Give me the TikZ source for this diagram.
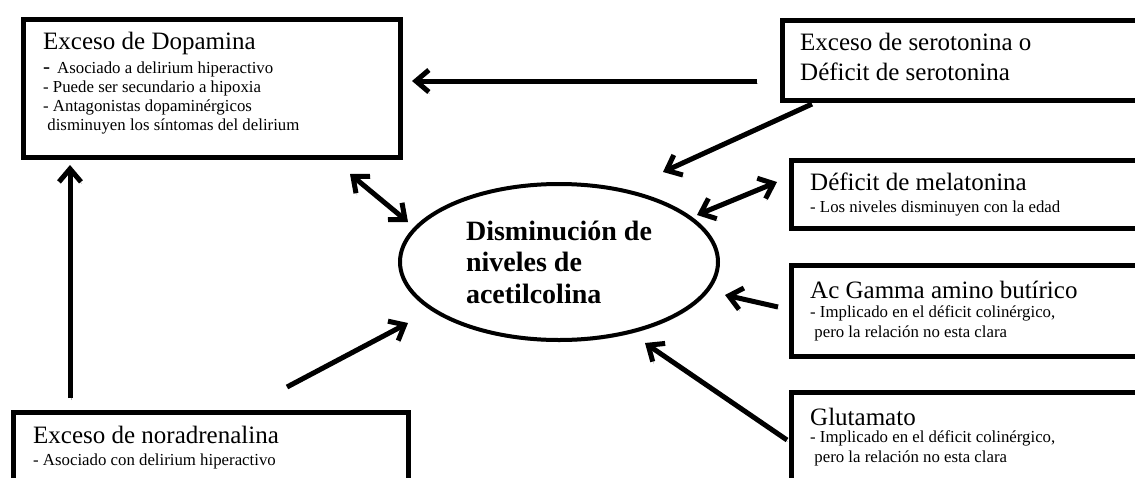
\documentclass[tikz,border=0pt]{standalone}
\usepackage{fontspec}
\setmainfont{Liberation Serif}
\usetikzlibrary{arrows.meta,shadows,shapes.geometric}

\begin{document}
\begin{tikzpicture}[
  x=1pt, y=-1pt,
  box/.style={draw, line width=5pt, fill=white, inner sep=0pt, anchor=north west,
    drop shadow={shadow xshift=1pt, shadow yshift=-3pt, fill=black!30, opacity=1}},
  hub/.style={ellipse, draw, line width=4pt, fill=white, inner sep=0pt,
    minimum width=318pt, minimum height=156pt, align=left,
    font=\fontsize{28}{31.5}\selectfont\bfseries,
    drop shadow={shadow xshift=1pt, shadow yshift=-2pt, fill=black!30, opacity=1}},
  title/.style={anchor=base west, inner sep=0pt, align=left, font=\fontsize{25}{30}\selectfont},
  note/.style={anchor=base west, inner sep=0pt, align=left, font=\fontsize{16.8}{19.5}\selectfont},
  arr/.style={line width=5pt, -{Straight Barb[length=13pt, width=22pt]},
    preaction={draw=black!30, transform canvas={xshift=1pt, yshift=-2pt}}},
  both/.style={arr, {Straight Barb[length=13pt, width=22pt]}-{Straight Barb[length=13pt, width=22pt]}}
]
\useasboundingbox (0,0) rectangle (1135,477);
\clip (0,0) rectangle (1135,477);

\node[box, minimum width=377pt, minimum height=138pt] (dopa) at (20.5,16.5) {};
\node[box, minimum width=380pt, minimum height=80pt] (sero) at (779.5,17.5) {};
\node[box, minimum width=370pt, minimum height=68pt] (mela) at (788.5,157.5) {};
\node[box, minimum width=370pt, minimum height=91pt] (gaba) at (788.5,262.5) {};
\node[box, minimum width=370pt, minimum height=120pt] (glu) at (788.5,389.5) {};
\node[box, minimum width=395pt, minimum height=100pt] (nora) at (10.5,409.5) {};

\node[hub] (ach) at (559,262) {Disminución de\\niveles de\\acetilcolina};

% multi-line texts sit on the baseline of their last line
\node[title] (dopat) at (43,49) {Exceso de Dopamina};
\node[note, font=\fontsize{16.8}{19}\selectfont] (dopan) at (43,130) {{\fontsize{21}{19}\selectfont -}\, Asociado a delirium hiperactivo\\- Puede ser secundario a hipoxia\\- Antagonistas dopaminérgicos\\\ disminuyen los síntomas del delirium};
\node[title] (serot) at (800,80) {Exceso de serotonina o\\Déficit de serotonina};
\node[title] (melat) at (810,190) {Déficit de melatonina};
\node[note] (melan) at (810,212) {- Los niveles disminuyen con la edad};
\node[title] (gabat) at (810,298) {Ac Gamma amino butírico};
\node[note] (gaban) at (810,337) {- Implicado en el déficit colinérgico,\\\ pero la relación no esta clara};
\node[title] (glut) at (810,425) {Glutamato};
\node[note] (glun) at (810,462) {- Implicado en el déficit colinérgico,\\\ pero la relación no esta clara};
\node[title] (norat) at (33,443) {Exceso de noradrenalina};
\node[note] (noran) at (33,465) {- Asociado con delirium hiperactivo};

\coordinate (s1) at (757,81);    \coordinate (d1) at (412,81);
\coordinate (s2) at (812,104);   \coordinate (h1) at (663,172);
\coordinate (d2) at (350,174);   \coordinate (h2) at (408,222);
\coordinate (h3) at (697,215);   \coordinate (m1) at (777,182);
\coordinate (g1) at (778,307);   \coordinate (h4) at (725,295);
\coordinate (u1) at (787,440);   \coordinate (h5) at (645,343);
\coordinate (n1) at (287,387);   \coordinate (h6) at (408,323);
\coordinate (n2) at (70,398);    \coordinate (d3) at (70,165);

\draw[arr] (s1) -- (d1);
\draw[arr] (s2) -- (h1);
\draw[both] (d2) -- (h2);
\draw[both] (h3) -- (m1);
\draw[arr] (g1) -- (h4);
\draw[arr] (u1) -- (h5);
\draw[arr] (n1) -- (h6);
\draw[arr] (n2) -- (d3);
\end{tikzpicture}
\end{document}
